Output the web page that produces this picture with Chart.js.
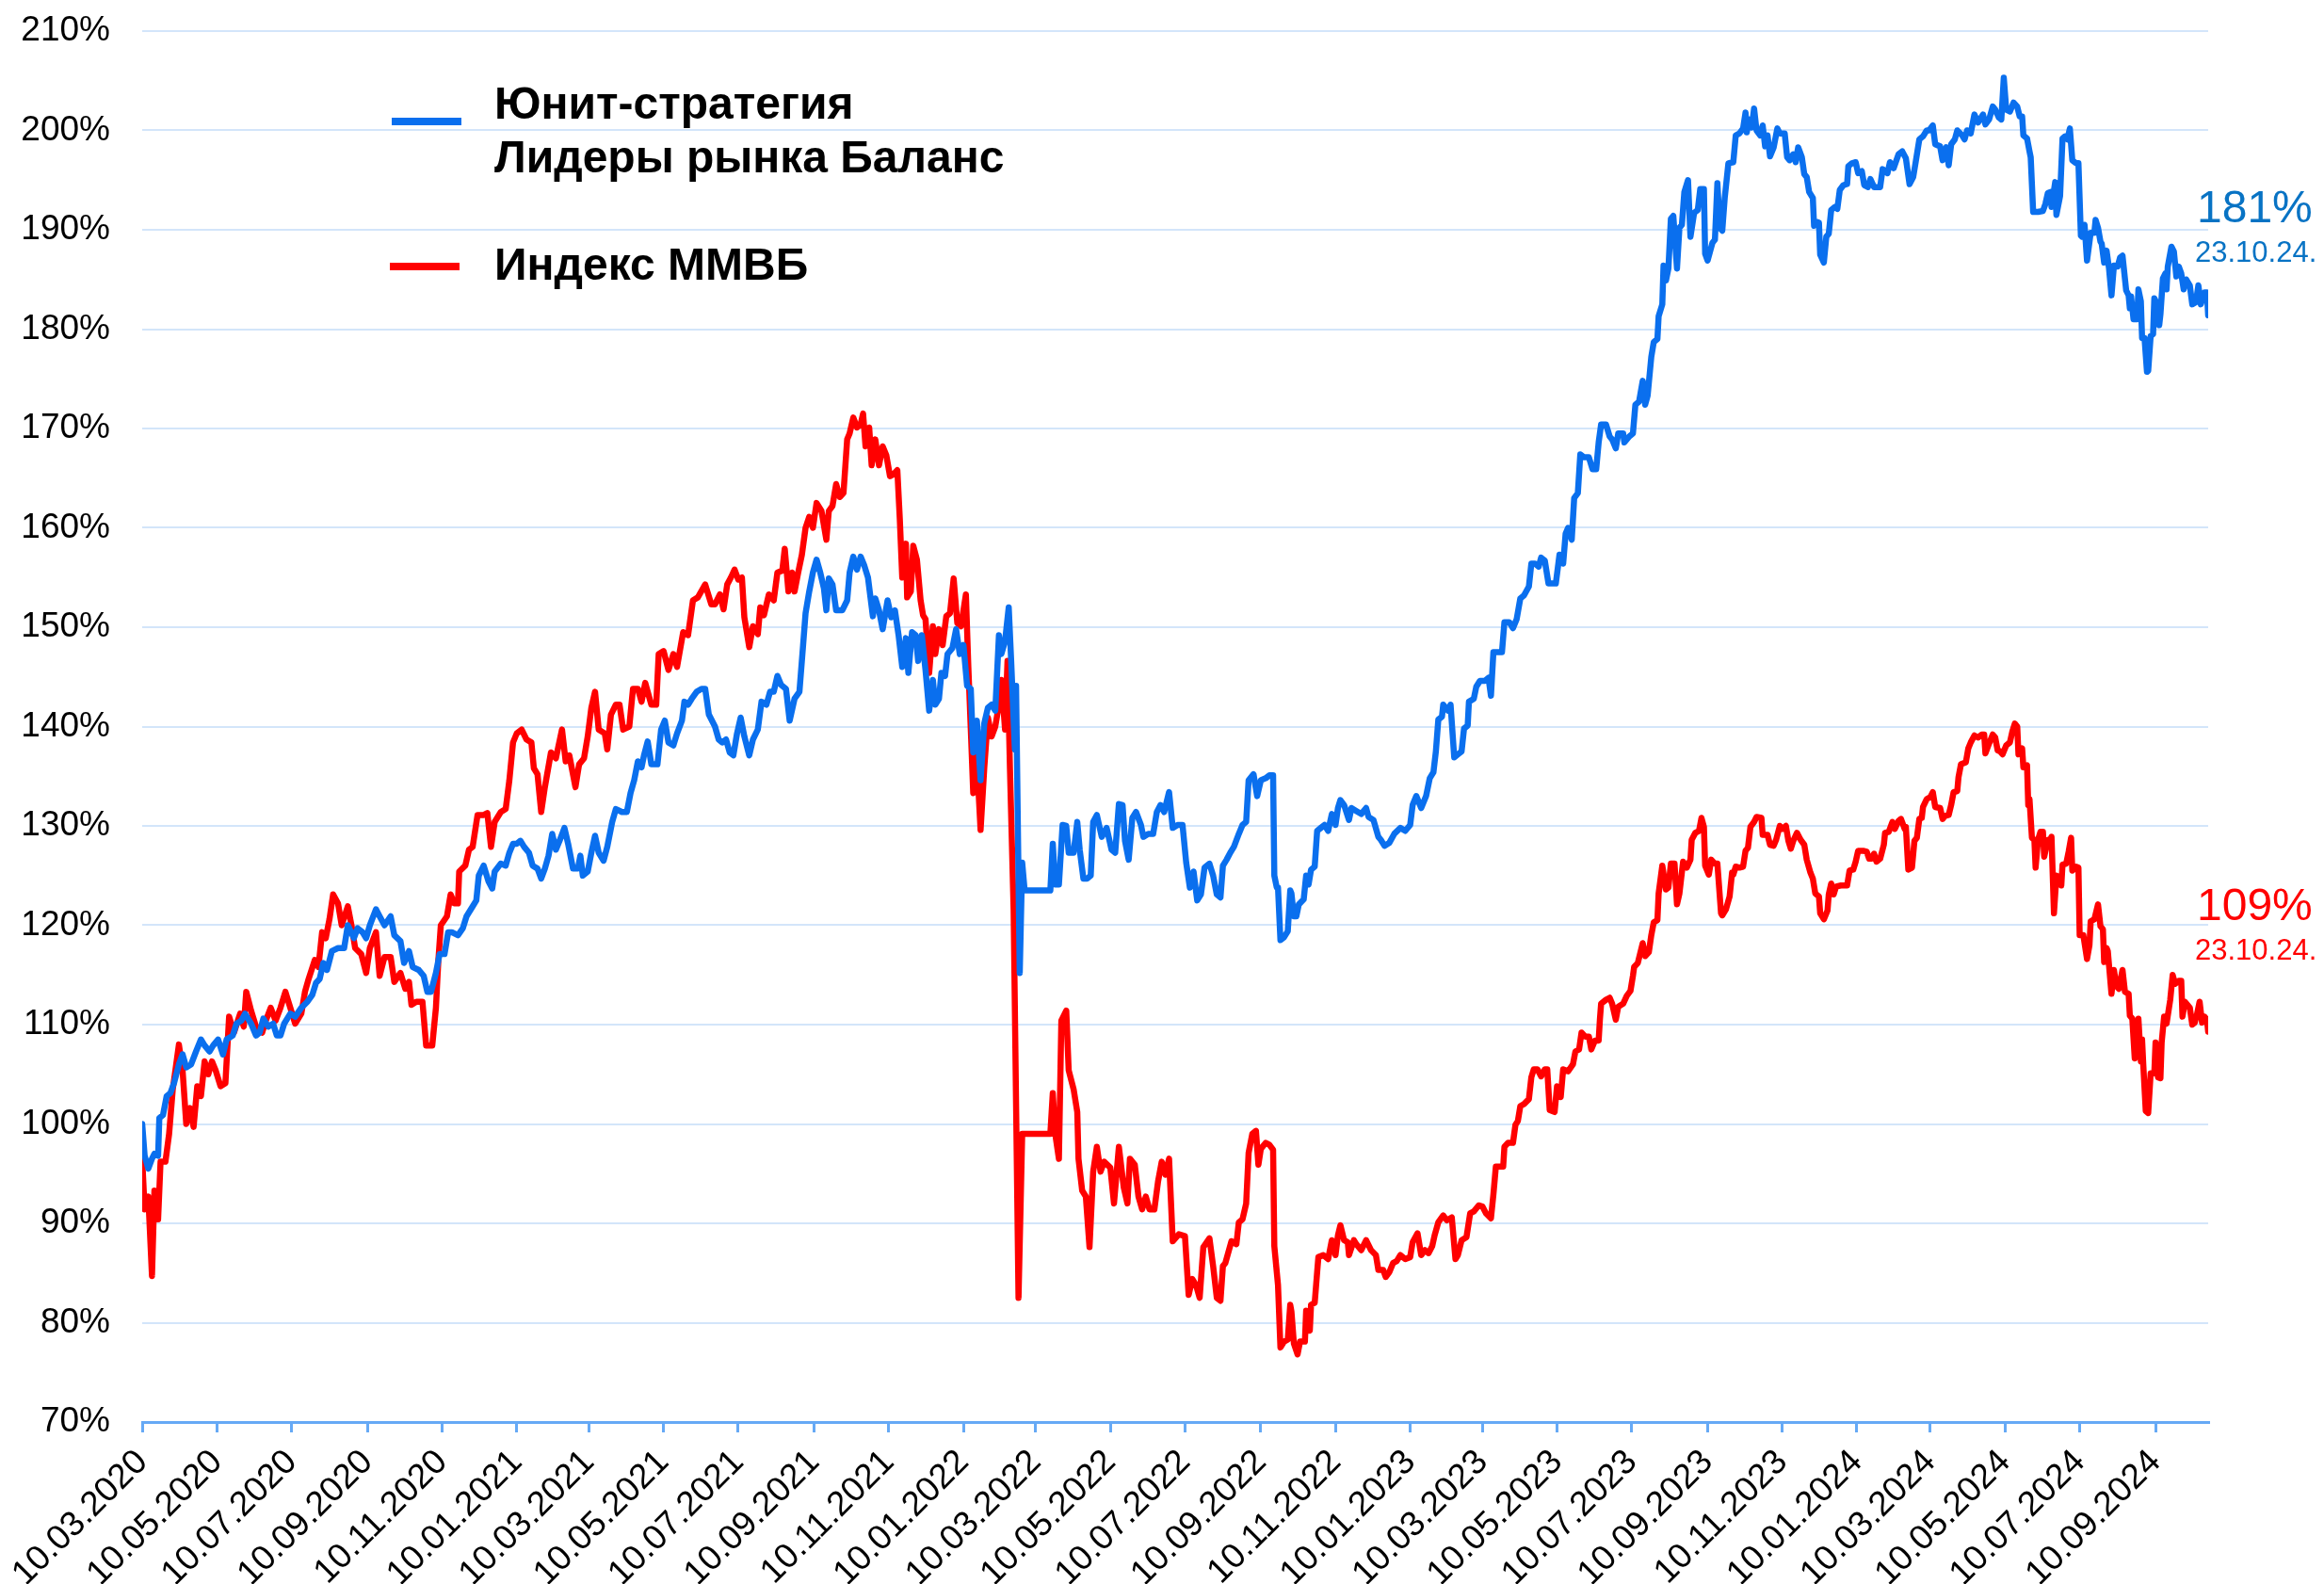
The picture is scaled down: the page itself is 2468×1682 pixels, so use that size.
<!DOCTYPE html>
<html lang="ru">
<head>
<meta charset="utf-8">
<title>Юнит-стратегия Лидеры рынка Баланс / Индекс ММВБ</title>
<script src="https://cdn.jsdelivr.net/npm/chart.js@4.4.1/dist/chart.umd.min.js"></script>
<style>
  html, body { margin: 0; padding: 0; background: #fff; }
  #wrap { width: 2468px; height: 1682px; }
</style>
</head>
<body>
<div id="wrap"><canvas id="grafico" width="2468" height="1682"></canvas></div>
<script>
// dias contados a partir de 10.03.2020
const unitDays = [
  0, 2, 5, 8, 10, 13, 14, 17, 20, 23, 26, 30, 33, 36, 40, 44, 48, 51, 55, 58, 62, 66, 69, 74, 77, 81, 84, 89, 93, 96, 99,
  103, 107, 110, 113, 116, 121, 125, 130, 135, 139, 142, 145, 148, 151, 155, 160, 165, 168, 173, 176, 180, 183, 186, 191, 194, 198,
  203, 206, 211, 214, 218, 221, 226, 230, 233, 236, 240, 243, 247, 250, 253, 258, 262, 265, 270, 273, 275, 279, 283, 286, 288, 293, 297,
  300, 303, 306, 309, 312, 316, 319, 323, 326, 329, 332, 335, 338, 341, 345, 348, 352, 356, 358, 360, 364, 367, 370, 373, 377, 380, 384, 387,
  392, 396, 399, 402, 405, 408, 410, 413, 416, 421, 424, 427, 430, 434, 437, 441, 443, 446, 449, 453, 457, 460, 463, 468, 471, 474, 477,
  480, 483, 486, 489, 492, 496, 499, 503, 506, 510, 513, 516, 519, 522, 526, 529, 533, 537, 540, 542, 545, 548, 551, 554, 557, 559, 561,
  564, 567, 572, 576, 578, 581, 584, 587, 590, 593, 597, 599, 602, 605, 609, 612, 615, 618, 621, 624, 626, 629, 632, 634, 637, 640, 643,
  646, 648, 651, 653, 656, 658, 662, 665, 668, 671, 674, 677, 679, 682, 685, 688, 691, 694, 697, 700, 702, 705, 708, 710, 713, 714, 717,
  719, 721, 742, 744, 746, 749, 752, 755, 757, 761, 764, 766, 769, 772, 775, 777, 780, 784, 788, 792, 795, 798, 801, 803, 806, 809, 812,
  816, 818, 822, 826, 829, 832, 835, 839, 842, 846, 850, 853, 856, 859, 862, 865, 868, 872, 875, 878, 881, 883, 886, 889, 892, 896, 899,
  902, 904, 908, 911, 914, 918, 921, 924, 925, 927, 928, 930, 933, 936, 938, 939, 941, 943, 945, 949, 951, 953, 955, 958, 960, 963, 966,
  969, 972, 975, 977, 979, 982, 986, 988, 992, 996, 1000, 1002, 1006, 1010, 1012, 1015, 1019, 1023, 1028, 1032, 1036, 1038, 1041, 1045,
  1049, 1052, 1055, 1057, 1059, 1062, 1063, 1067, 1069, 1072, 1075, 1078, 1080, 1083, 1084, 1088, 1090, 1093, 1097, 1100, 1102, 1104,
  1108, 1111, 1113, 1117, 1120, 1123, 1126, 1129, 1133, 1135, 1138, 1141, 1143, 1146, 1149, 1152, 1155, 1158, 1161, 1163, 1165, 1168,
  1170, 1173, 1175, 1178, 1182, 1185, 1188, 1190, 1192, 1196, 1199, 1201, 1204, 1206, 1210, 1211, 1215, 1218, 1220, 1223, 1226, 1228,
  1230, 1233, 1235, 1238, 1239, 1242, 1243, 1245, 1247, 1249, 1251, 1254, 1256, 1258, 1260, 1263, 1265, 1268, 1271, 1273, 1276, 1277,
  1279, 1283, 1285, 1287, 1289, 1291, 1293, 1296, 1300, 1302, 1305, 1308, 1310, 1311, 1313, 1315, 1317, 1319, 1322, 1324, 1326, 1328,
  1330, 1333, 1336, 1338, 1342, 1344, 1346, 1349, 1351, 1353, 1356, 1358, 1360, 1362, 1365, 1366, 1368, 1370, 1371, 1374, 1376, 1378,
  1380, 1383, 1385, 1387, 1390, 1393, 1394, 1397, 1400, 1402, 1405, 1407, 1410, 1412, 1415, 1420, 1422, 1426, 1428, 1431, 1435, 1438,
  1441, 1444, 1447, 1449, 1452, 1455, 1458, 1460, 1463, 1465, 1469, 1471, 1474, 1476, 1478, 1481, 1483, 1487, 1489, 1491, 1494, 1497,
  1500, 1504, 1506, 1509, 1512, 1514, 1517, 1519, 1521, 1523, 1526, 1529, 1532, 1534, 1536, 1537, 1540, 1542, 1543, 1545, 1549, 1553,
  1555, 1557, 1559, 1560, 1563, 1564, 1567, 1569, 1571, 1573, 1575, 1577, 1580, 1582, 1584, 1585, 1587, 1589, 1592, 1595, 1596, 1598,
  1600, 1601, 1603, 1605, 1607, 1609, 1611, 1614, 1616, 1618, 1621, 1623, 1624, 1625, 1627, 1630, 1631, 1633, 1634, 1636, 1638, 1639,
  1641, 1643, 1644, 1646, 1648, 1649, 1651, 1653, 1654, 1655, 1658, 1660, 1662, 1664, 1666, 1668, 1670, 1673, 1675, 1678, 1680, 1682,
  1685, 1687, 1688
];
const unitValues = [
  100.0, 96.8, 95.5, 96.5, 97.0, 96.8, 100.6, 100.9, 102.8, 103.1, 104.1, 106.0, 107.0, 105.7, 106.0, 107.3, 108.5, 107.9, 107.3, 107.9, 108.5, 107.0, 108.5, 108.9, 110.1, 110.4, 111.1, 110.1, 108.9, 109.2, 110.6,
  109.8, 110.1, 108.9, 108.9, 110.1, 111.1, 110.8, 111.7, 112.3, 113.0, 114.2, 114.6, 116.2, 115.5, 117.4, 117.7, 117.7, 120.0, 118.7, 119.7, 119.3, 118.7, 120.0, 121.6, 120.9, 120.0,
  120.9, 119.0, 118.4, 116.2, 117.4, 115.8, 115.5, 114.9, 113.3, 113.3, 115.2, 117.1, 117.1, 119.3, 119.3, 119.0, 119.7, 120.9, 121.9, 122.5, 125.0, 126.0, 124.4, 123.7, 125.4, 126.2, 126.0,
  127.3, 128.2, 128.2, 128.5, 127.9, 127.3, 126.0, 125.7, 124.7, 125.7, 127.0, 129.2, 127.6, 128.5, 129.8, 128.2, 125.7, 125.7, 127.0, 125.0, 125.4, 127.3, 129.0, 127.3, 126.5, 127.9, 130.4, 131.7,
  131.4, 131.4, 133.3, 134.6, 136.5, 135.9, 137.1, 138.5, 136.2, 136.2, 139.7, 140.6, 138.4, 138.1, 139.3, 140.6, 142.5, 142.2, 142.8, 143.5, 143.8, 143.8, 141.2, 140.0, 138.7, 138.4, 138.7,
  137.4, 137.1, 139.3, 140.9, 139.0, 137.1, 138.7, 139.7, 142.5, 142.2, 143.5, 143.5, 145.1, 144.2, 143.8, 140.6, 142.8, 143.5, 148.2, 151.4, 153.6, 155.5, 156.8, 155.5, 153.9, 151.7, 154.9,
  154.3, 151.7, 151.7, 152.7, 155.5, 157.1, 155.8, 157.1, 156.2, 155.0, 151.1, 152.9, 151.7, 149.8, 152.7, 151.0, 151.7, 149.2, 146.0, 148.9, 145.4, 149.5, 149.2, 146.6, 149.2, 145.7, 141.6,
  144.7, 142.2, 142.8, 145.4, 145.1, 147.3, 147.9, 149.8, 147.3, 148.2, 144.1, 143.8, 137.4, 140.6, 134.6, 140.3, 141.9, 142.2, 141.6, 149.2, 147.3, 148.6, 152.0, 146.6, 137.7, 144.1, 115.2,
  126.3, 123.5, 123.5, 128.2, 124.1, 124.1, 130.1, 130.0, 127.3, 127.3, 130.4, 127.6, 124.7, 124.7, 125.0, 130.4, 131.1, 128.9, 129.8, 127.6, 127.3, 132.2, 132.1, 128.5, 126.6, 130.8, 131.4,
  130.1, 128.9, 129.2, 129.2, 131.4, 132.1, 131.4, 133.4, 129.8, 130.1, 130.1, 126.3, 123.8, 125.4, 122.5, 123.1, 125.8, 126.2, 125.0, 123.1, 122.8, 126.0, 126.6, 127.3, 127.9, 129.2, 130.1,
  130.4, 134.6, 135.2, 133.0, 134.6, 134.8, 135.1, 135.1, 125.0, 123.8, 123.8, 118.5, 118.8, 119.4, 123.5, 123.2, 120.9, 120.9, 122.1, 122.6, 125.0, 124.1, 125.6, 125.9, 129.5, 129.8, 130.1,
  129.5, 131.2, 130.1, 131.8, 132.6, 132.1, 130.6, 131.8, 131.5, 131.2, 131.8, 130.9, 130.6, 128.9, 128.6, 128.0, 128.3, 129.2, 129.8, 129.5, 130.1, 132.1, 133.0, 131.8,
  133.0, 134.8, 135.4, 137.5, 140.7, 141.0, 142.2, 141.6, 142.2, 136.9, 137.2, 137.5, 139.8, 140.1, 142.5, 142.8, 144.0, 144.6, 144.6, 144.9, 143.1, 147.5,
  147.5, 147.5, 150.5, 150.5, 149.9, 150.8, 152.9, 153.2, 154.1, 156.4, 156.4, 156.1, 157.0, 156.7, 154.4, 154.4, 154.4, 157.3, 156.4, 159.4, 160.0, 158.8,
  163.0, 163.5, 167.4, 167.1, 167.1, 165.9, 165.9, 168.6, 170.4, 170.4, 169.2, 168.9, 168.0, 169.5, 169.5, 168.6, 169.2, 169.5, 172.4, 172.7, 174.8, 172.4,
  173.3, 177.2, 178.7, 179.0, 181.3, 182.5, 186.4, 184.9, 186.1, 191.1, 191.4, 186.1, 190.2, 190.5, 193.8, 195.0, 189.3, 191.7, 192.0, 194.1, 194.1, 187.6,
  186.9, 188.7, 189.0, 194.7, 190.2, 189.9, 193.2, 196.7, 196.8, 199.5, 199.7, 200.2, 201.8, 199.8, 201.1, 200.3, 202.2, 200.0, 199.5, 200.5, 198.4, 199.5,
  197.4, 198.3, 200.2, 199.7, 199.7, 197.3, 197.0, 197.6, 196.8, 198.3, 197.3, 195.6, 195.3, 193.8, 193.2, 190.4, 190.8, 190.7, 187.5, 186.7, 189.3, 189.6,
  192.0, 192.3, 192.1, 194.0, 194.5, 194.6, 196.4, 196.7, 196.8, 195.7, 195.9, 194.5, 194.3, 195.1, 194.3, 194.3, 196.1, 195.7, 196.8, 196.2, 197.6, 197.9,
  197.2, 194.6, 195.3, 196.8, 199.1, 199.4, 200.0, 200.0, 200.5, 198.6, 198.4, 197.0, 198.3, 196.5, 198.6, 199.1, 200.0, 199.5, 199.1, 200.0, 199.7, 201.6,
  200.8, 201.6, 200.6, 201.1, 202.4, 202.1, 201.3, 201.1, 205.3, 202.1, 201.9, 202.8, 202.4, 201.4, 201.4, 199.5, 199.2, 197.9, 197.3, 191.8, 191.8, 191.9,
  192.6, 193.7, 193.8, 192.3, 194.8, 191.5, 193.4, 199.2, 199.4, 199.1, 200.2, 197.0, 196.7, 196.7, 189.4, 189.3, 190.5, 186.9, 189.7, 189.7, 191.0, 190.2,
  188.8, 188.6, 186.7, 187.9, 186.1, 183.4, 186.4, 186.3, 187.2, 187.4, 183.9, 183.4, 182.1, 183.3, 181.0, 181.0, 184.0, 182.8, 179.1, 179.1, 175.7, 175.8,
  179.3, 179.5, 183.1, 182.6, 180.4, 181.5, 185.1, 185.6, 184.0, 186.3, 188.3, 187.8, 185.3, 186.3, 185.6, 184.0, 185.0, 184.4, 182.5, 182.7, 184.4, 182.5,
  183.7, 183.7, 181.4
];

const imoexDays = [
  0, 2, 5, 8, 10, 13, 15, 19, 22, 25, 30, 33, 36, 39, 42, 45, 48, 51, 54, 57, 60, 64, 68, 71, 75, 80, 83, 85, 89, 93, 98,
  101, 105, 109, 113, 117, 121, 125, 130, 133, 136, 141, 144, 147, 150, 153, 156, 160, 163, 168, 171, 174, 179, 183, 186, 191, 194, 198,
  203, 206, 211, 215, 218, 220, 224, 229, 232, 237, 240, 242, 244, 249, 252, 255, 258, 259, 264, 267, 270, 274, 279, 282, 285, 288, 293, 297,
  300, 303, 306, 310, 314, 318, 320, 323, 326, 329, 334, 338, 343, 346, 349, 354, 357, 361, 364, 367, 370, 373, 378, 380, 383, 387, 390,
  393, 398, 401, 405, 408, 411, 416, 420, 422, 426, 430, 434, 437, 442, 446, 450, 454, 460, 465, 468, 472, 475, 478, 481, 484, 487, 490,
  492, 496, 499, 503, 505, 508, 512, 516, 519, 523, 525, 528, 531, 533, 536, 539, 542, 545, 548, 551, 555, 559, 561, 564, 567, 570, 573,
  576, 578, 581, 584, 587, 589, 591, 594, 596, 599, 602, 605, 608, 611, 614, 617, 619, 621, 624, 625, 628, 630, 633, 636, 638, 640, 643,
  646, 648, 651, 654, 657, 660, 663, 666, 669, 673, 675, 677, 679, 681, 685, 688, 691, 694, 697, 700, 702, 705, 707, 709, 712, 716, 719,
  742, 744, 746, 749, 751, 755, 757, 761, 764, 765, 768, 771, 774, 777, 780, 783, 786, 791, 794, 798, 802, 805, 807, 811, 814, 817, 820,
  823, 827, 830, 833, 836, 839, 842, 847, 852, 855, 858, 861, 864, 867, 872, 875, 878, 881, 883, 885, 890, 894, 896, 899, 902, 904, 907,
  910, 912, 914, 918, 921, 924, 925, 928, 930, 933, 936, 938, 939, 941, 944, 946, 950, 951, 954, 955, 958, 960, 961, 965, 969, 972, 975,
  977, 979, 982, 985, 986, 990, 992, 996, 1000, 1004, 1008, 1010, 1014, 1016, 1019, 1022, 1025, 1028, 1032, 1036, 1038, 1042, 1045, 1048,
  1051, 1054, 1056, 1059, 1063, 1066, 1070, 1073, 1075, 1078, 1082, 1085, 1088, 1092, 1095, 1098, 1102, 1104, 1106, 1109, 1112, 1113,
  1116, 1120, 1122, 1124, 1126, 1129, 1133, 1135, 1137, 1140, 1143, 1146, 1148, 1150, 1154, 1156, 1159, 1161, 1165, 1169, 1171, 1174,
  1176, 1179, 1182, 1184, 1187, 1190, 1191, 1192, 1196, 1199, 1201, 1204, 1206, 1210, 1213, 1216, 1218, 1219, 1222, 1226, 1228, 1231,
  1233, 1235, 1238, 1239, 1242, 1245, 1247, 1249, 1252, 1254, 1256, 1259, 1262, 1265, 1266, 1269, 1272, 1274, 1276, 1277, 1280, 1282,
  1285, 1287, 1290, 1291, 1294, 1297, 1299, 1300, 1302, 1305, 1308, 1310, 1312, 1314, 1317, 1319, 1323, 1324, 1328, 1330, 1333, 1335,
  1338, 1340, 1343, 1345, 1347, 1349, 1352, 1355, 1358, 1360, 1363, 1365, 1367, 1370, 1371, 1374, 1377, 1378, 1380, 1382, 1384, 1388,
  1393, 1395, 1398, 1400, 1402, 1406, 1409, 1411, 1413, 1415, 1417, 1420, 1423, 1424, 1427, 1430, 1432, 1435, 1437, 1440, 1441, 1443,
  1446, 1448, 1450, 1452, 1454, 1455, 1458, 1461, 1463, 1465, 1469, 1471, 1473, 1476, 1478, 1480, 1483, 1484, 1486, 1490, 1492, 1494,
  1497, 1500, 1503, 1505, 1506, 1509, 1512, 1514, 1516, 1518, 1520, 1523, 1526, 1528, 1530, 1532, 1533, 1536, 1537, 1540, 1541, 1542,
  1544, 1546, 1547, 1549, 1551, 1553, 1554, 1557, 1559, 1560, 1562, 1564, 1567, 1568, 1569, 1572, 1574, 1576, 1577, 1580, 1582, 1583,
  1586, 1589, 1591, 1592, 1595, 1598, 1600, 1602, 1603, 1605, 1606, 1609, 1611, 1613, 1615, 1618, 1620, 1623, 1624, 1626, 1628, 1631,
  1633, 1634, 1635, 1637, 1639, 1641, 1644, 1645, 1647, 1649, 1650, 1652, 1654, 1657, 1659, 1661, 1664, 1666, 1667, 1669, 1673, 1675,
  1677, 1679, 1681, 1683, 1685, 1687, 1688
];
const imoexValues = [
  96.5, 91.4, 92.7, 84.7, 93.3, 90.4, 96.2, 96.2, 99.0, 103.5, 108.0, 105.4, 100.0, 101.6, 99.7, 103.8, 102.8, 106.3, 105.0, 106.3, 105.4, 103.8, 104.1, 110.8, 109.2, 111.1, 109.8, 113.3, 111.4, 109.8, 109.2,
  110.4, 111.7, 110.4, 111.7, 113.3, 111.7, 110.1, 111.1, 113.3, 114.6, 116.5, 115.8, 119.3, 118.7, 120.6, 123.1, 122.2, 120.0, 121.9, 120.0, 117.7, 117.1, 115.2, 117.7, 119.3, 114.9, 116.8,
  116.8, 114.3, 115.2, 113.6, 114.3, 112.0, 112.3, 112.3, 107.9, 107.9, 111.7, 116.5, 120.0, 120.9, 123.1, 122.2, 122.2, 125.4, 126.0, 127.6, 127.9, 131.1, 131.1, 131.3, 127.9, 130.4, 131.4, 131.7,
  134.6, 138.4, 139.3, 139.7, 138.7, 138.4, 135.8, 135.2, 131.4, 133.9, 137.4, 136.8, 139.7, 136.5, 137.1, 133.9, 136.2, 136.8, 139.0, 141.9, 143.5, 139.7, 139.3, 137.7, 141.2, 142.2, 142.2,
  139.7, 140.0, 143.8, 143.8, 142.5, 144.4, 142.2, 142.2, 147.3, 147.6, 145.7, 147.3, 146.0, 149.5, 149.2, 152.7, 153.0, 154.3, 152.3, 152.3, 153.3, 151.8, 154.3, 155.0, 155.8, 154.8, 155.0,
  151.0, 148.0, 150.1, 149.3, 152.0, 151.2, 153.3, 152.7, 155.5, 155.7, 157.9, 153.6, 155.5, 153.6, 155.5, 157.3, 160.0, 161.1, 160.0, 162.5, 161.7, 158.8, 161.7, 162.2, 164.4, 163.1, 163.5,
  168.9, 169.5, 171.1, 170.1, 170.4, 171.5, 168.2, 170.1, 166.3, 168.9, 166.3, 168.2, 167.3, 165.2, 165.4, 165.8, 160.9, 155.0, 158.4, 153.0, 153.6, 158.2, 156.8, 152.7, 151.2, 150.8, 145.4,
  150.1, 147.3, 149.8, 148.2, 151.1, 151.4, 154.9, 150.4, 150.1, 153.3, 146.0, 139.7, 133.3, 139.0, 129.6, 135.8, 140.9, 139.0, 140.0, 142.2, 144.7, 139.7, 146.6, 135.8, 121.6, 82.5, 99.0,
  99.0, 103.1, 99.0, 96.5, 110.4, 111.4, 105.4, 103.5, 101.2, 96.5, 93.3, 92.7, 87.6, 95.2, 97.7, 95.2, 96.2, 95.6, 92.0, 97.7, 93.6, 92.0, 96.5, 95.9, 92.7, 91.4, 92.7,
  91.4, 91.4, 94.2, 96.2, 94.9, 96.5, 88.2, 88.9, 88.7, 82.8, 84.4, 83.8, 82.5, 87.6, 88.5, 85.7, 82.5, 82.2, 85.7, 86.0, 88.2, 87.9, 90.1, 90.4, 92.0, 97.1, 99.0,
  99.3, 95.9, 97.5, 98.1, 97.9, 97.4, 87.7, 83.8, 77.5, 78.1, 78.3, 81.8, 81.1, 77.9, 76.8, 78.1, 78.1, 81.2, 79.2, 81.8, 82.0, 85.1, 86.6, 86.8, 86.4, 88.3, 86.8,
  88.8, 89.8, 88.3, 88.1, 86.8, 88.3, 87.9, 87.3, 88.3, 87.3, 86.8, 85.3, 85.3, 84.6, 85.1, 86.0, 86.2, 86.8, 86.4, 86.6, 88.1, 89.0, 86.8, 87.3,
  87.0, 87.7, 88.8, 90.1, 90.8, 90.3, 90.6, 86.4, 86.8, 88.3, 88.6, 91.0, 91.2, 91.8, 91.7, 91.0, 90.5, 92.9, 95.7, 95.7, 95.7, 97.7,
  98.1, 98.1, 99.9, 100.3, 101.8, 102.0, 102.5, 104.7, 105.5, 105.5, 104.8, 105.5, 105.5, 101.4, 101.2, 103.8, 102.7, 105.5, 105.3, 106.0, 107.3, 107.5,
  109.2, 108.8, 108.8, 107.5, 108.4, 108.4, 110.5, 112.1, 112.5, 112.7, 112.1, 110.5, 111.8, 112.1, 112.9, 113.4, 114.9, 115.8, 116.2, 118.2, 116.9, 117.3,
  119.0, 120.3, 120.5, 123.2, 126.0, 123.6, 123.8, 126.2, 126.2, 122.1, 123.2, 126.4, 125.8, 126.6, 128.6, 129.3, 129.5, 130.8, 129.9, 126.0, 125.1, 126.6,
  126.2, 126.2, 121.2, 121.0, 121.6, 122.9, 125.3, 125.1, 125.9, 125.8, 125.9, 127.5, 127.8, 129.9, 130.4, 130.9, 130.8, 129.1, 129.1, 128.1, 128.0, 128.6,
  130.0, 129.7, 130.0, 128.5, 127.7, 128.5, 129.3, 128.6, 128.1, 126.6, 125.3, 124.7, 123.2, 122.9, 121.2, 120.6, 121.5, 123.1, 124.2, 123.1, 123.9, 124.0,
  124.0, 125.5, 125.6, 126.4, 127.5, 127.5, 127.4, 126.7, 126.7, 127.2, 126.4, 126.7, 128.1, 129.3, 129.4, 130.4, 129.7, 130.5, 130.7, 129.7, 129.9, 125.6,
  125.8, 128.5, 128.8, 130.7, 130.8, 131.9, 132.7, 132.9, 133.4, 131.9, 131.8, 130.7, 131.0, 131.1, 132.1, 133.4, 133.5, 134.9, 136.2, 136.4, 137.8, 138.4,
  139.1, 138.9, 139.2, 139.2, 137.3, 138.3, 139.2, 138.9, 137.6, 137.5, 137.2, 138.1, 138.4, 139.5, 140.3, 140.0, 137.2, 137.8, 135.9, 136.1, 132.1, 132.7,
  128.8, 128.6, 125.8, 128.6, 129.4, 129.4, 126.9, 128.6, 128.6, 128.9, 121.2, 125.0, 124.8, 124.0, 126.1, 126.2, 127.4, 128.8, 125.5, 125.9, 125.8, 119.0,
  119.0, 116.6, 118.0, 120.4, 120.6, 122.1, 119.9, 119.6, 116.3, 117.7, 117.4, 113.1, 115.5, 113.9, 113.6, 115.5, 113.3, 113.1, 110.9, 110.6, 106.6, 110.6,
  106.3, 108.5, 105.9, 101.3, 101.1, 105.1, 105.1, 108.2, 104.7, 104.6, 108.2, 110.8, 110.1, 112.5, 115.0, 114.1, 114.4, 114.4, 110.8, 112.3, 111.7, 110.0,
  110.2, 111.1, 112.3, 110.2, 110.8, 110.5, 109.3
];

const seriesNames = ['Юнит-стратегия Лидеры рынка Баланс', 'Индекс ММВБ'];
const legendLines = [['Юнит-стратегия', 'Лидеры рынка Баланс'], ['Индекс ММВБ']];
const tickLabels = [
  '10.03.2020', '10.05.2020', '10.07.2020', '10.09.2020', '10.11.2020', '10.01.2021', '10.03.2021',
  '10.05.2021', '10.07.2021', '10.09.2021', '10.11.2021', '10.01.2022', '10.03.2022', '10.05.2022',
  '10.07.2022', '10.09.2022', '10.11.2022', '10.01.2023', '10.03.2023', '10.05.2023', '10.07.2023',
  '10.09.2023', '10.11.2023', '10.01.2024', '10.03.2024', '10.05.2024', '10.07.2024', '10.09.2024'
];
const lastDateLabel = '23.10.24.';

const fonte = '"Liberation Sans", Arial, Helvetica, sans-serif';
const corUnit = '#0A6FEE';
const corUnitTexto = '#0873C4';
const corImoex = '#FF0000';
const corEixo = '#66A9F5';
const corGrade = '#D3E5FA';

function dayOf(str) {
  const p = str.split('.');
  return Math.round((Date.UTC(+p[2], +p[1] - 1, +p[0]) - Date.UTC(2020, 2, 10)) / 86400000);
}
const tickDays = tickLabels.map(dayOf);
const lastDay = unitDays[unitDays.length - 1];

const legendaPlugin = {
  id: 'legenda',
  afterDraw(chart) {
    const c = chart.ctx;
    c.save();
    c.lineWidth = 8;
    c.strokeStyle = corUnit;
    c.beginPath(); c.moveTo(416, 129); c.lineTo(490, 129); c.stroke();
    c.strokeStyle = corImoex;
    c.beginPath(); c.moveTo(414, 283); c.lineTo(488, 283); c.stroke();
    c.fillStyle = '#000';
    c.font = 'bold 48px ' + fonte;
    c.textAlign = 'left';
    c.textBaseline = 'alphabetic';
    c.fillText(legendLines[0][0], 525, 126);
    c.fillText(legendLines[0][1], 525, 183);
    c.fillText(legendLines[1][0], 525, 297);
    c.restore();
  }
};

const rotulosPlugin = {
  id: 'rotulos',
  afterDraw(chart) {
    const c = chart.ctx;
    const x = chart.chartArea.right - 12;
    const unitLast = unitValues[unitValues.length - 1];
    const imoexLast = imoexValues[imoexValues.length - 1];
    c.save();
    c.textAlign = 'left';
    c.textBaseline = 'alphabetic';
    c.fillStyle = corUnitTexto;
    c.font = '48px ' + fonte;
    c.fillText(Math.round(unitLast) + '%', x, 236);
    c.font = '31px ' + fonte;
    c.fillText(lastDateLabel, x - 2, 278);
    c.fillStyle = corImoex;
    c.font = '48px ' + fonte;
    c.fillText(Math.round(imoexLast) + '%', x, 977);
    c.font = '31px ' + fonte;
    c.fillText(lastDateLabel, x - 2, 1019);
    c.restore();
  }
};

const ctx = document.getElementById('grafico');
const grafico = new Chart(ctx, {
  type: 'line',
  data: {
    datasets: [
      {
        label: seriesNames[0],
        data: unitDays.map((d, i) => ({ x: d, y: unitValues[i] })),
        borderColor: corUnit,
        backgroundColor: corUnit,
        borderWidth: 6.5,
        pointRadius: 0,
        tension: 0,
        borderJoinStyle: 'round',
        borderCapStyle: 'round'
      },
      {
        label: seriesNames[1],
        data: imoexDays.map((d, i) => ({ x: d, y: imoexValues[i] })),
        borderColor: corImoex,
        backgroundColor: corImoex,
        borderWidth: 6.5,
        pointRadius: 0,
        tension: 0,
        borderJoinStyle: 'round',
        borderCapStyle: 'round'
      }
    ]
  },
  options: {
    responsive: false,
    animation: false,
    devicePixelRatio: 1,
    layout: { padding: { left: 0, right: 123, top: 33, bottom: 0 } },
    plugins: {
      legend: { display: false },
      tooltip: { enabled: false }
    },
    scales: {
      x: {
        type: 'linear',
        min: 0,
        max: lastDay,
        afterBuildTicks: (scale) => { scale.ticks = tickDays.map(v => ({ value: v })); },
        afterFit: (scale) => { scale.height = 172; },
        grid: { drawOnChartArea: false, drawTicks: true, tickLength: 11, color: corEixo, lineWidth: 3 },
        border: { display: true, color: corEixo, width: 3 },
        ticks: {
          autoSkip: false,
          maxRotation: 45,
          minRotation: 45,
          padding: 10,
          color: '#000',
          font: { family: fonte, size: 37 },
          callback: (value, index) => tickLabels[index]
        }
      },
      y: {
        min: 70,
        max: 210,
        afterFit: (scale) => {
          scale.width = 151;
          scale.paddingTop = 0;
          scale.paddingBottom = 0;
        },
        grid: { color: corGrade, lineWidth: 2, drawTicks: false },
        border: { display: false },
        ticks: {
          stepSize: 10,
          padding: 34,
          color: '#000',
          font: { family: fonte, size: 37 },
          callback: (value) => value + '%'
        }
      }
    }
  },
  plugins: [legendaPlugin, rotulosPlugin]
});
</script>
</body>
</html>
